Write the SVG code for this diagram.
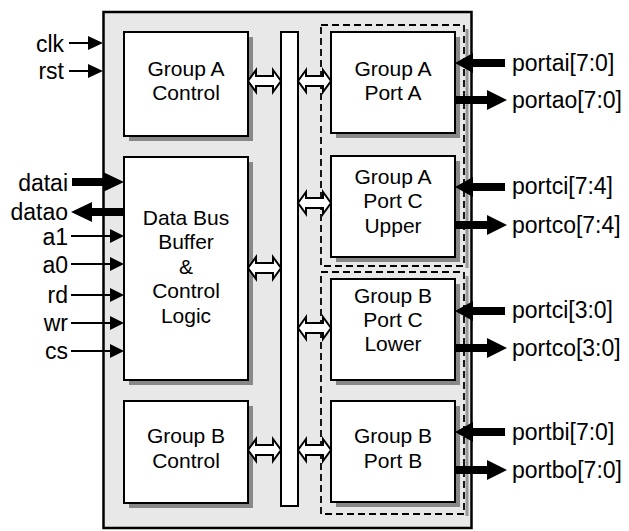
<svg xmlns="http://www.w3.org/2000/svg" width="629" height="531" viewBox="0 0 629 531">
<defs>
<style>
.sh{fill:#888888;}
.box{fill:#ffffff;stroke:#000000;stroke-width:2;}
.dash{fill:none;stroke:#000000;stroke-width:1.8;stroke-dasharray:7,4;}
.dsh{fill:none;stroke:#999999;stroke-width:3;}
.nt{font-family:"Liberation Sans",Arial,sans-serif;font-size:21px;fill:#000;text-anchor:middle;}
.lt{font-family:"Liberation Sans",Arial,sans-serif;font-size:23px;fill:#000;text-anchor:end;}
.rt{font-family:"Liberation Sans",Arial,sans-serif;font-size:23px;fill:#000;text-anchor:start;}
.thin{stroke:#000;stroke-width:2;fill:none;}
.thick{stroke:#000;stroke-width:8;fill:none;}
.hd{fill:#000;}
.dbl{fill:#ffffff;stroke:#000;stroke-width:2;stroke-linejoin:miter;}
</style>
<path id="da" class="dbl" d="M0,0 L8,-11 L8,-5 L25,-5 L25,-11 L33,0 L25,11 L25,5 L8,5 L8,11 Z"/>
</defs>

<g id="chip">
<rect x="103.5" y="12" width="368" height="516" fill="#e8e8e8" stroke="#000" stroke-width="2.5"/>
</g>

<g id="groupA-region">
<line class="dsh" x1="467" y1="29" x2="467" y2="268"/>
<rect class="dash" x="321" y="25" width="143" height="241"/>
</g>
<g id="groupB-region">
<line class="dsh" x1="467" y1="276" x2="467" y2="516"/>
<rect class="dash" x="321" y="272" width="143" height="242"/>
</g>

<g id="groupA-control">
<rect class="sh" x="129" y="37" width="124" height="104"/>
<rect class="box" x="124" y="32" width="124" height="104"/>
<text class="nt" x="186" y="76">Group A</text>
<text class="nt" x="186" y="100">Control</text>
</g>

<g id="databus">
<rect class="sh" x="129" y="162" width="124" height="223"/>
<rect class="box" x="124" y="157" width="124" height="223"/>
<text class="nt" x="186" y="225">Data Bus</text>
<text class="nt" x="186" y="249">Buffer</text>
<text class="nt" x="186" y="274">&amp;</text>
<text class="nt" x="186" y="298">Control</text>
<text class="nt" x="186" y="323">Logic</text>
</g>

<g id="groupB-control">
<rect class="sh" x="129" y="406" width="124" height="102"/>
<rect class="box" x="124" y="401" width="124" height="102"/>
<text class="nt" x="186" y="443">Group B</text>
<text class="nt" x="186" y="468">Control</text>
</g>

<g id="bus">
<rect class="box" x="281" y="32" width="17" height="474"/>
</g>

<g id="groupA-portA">
<rect class="sh" x="336" y="37" width="124" height="101"/>
<rect class="box" x="331" y="32" width="124" height="101"/>
<text class="nt" x="393" y="76">Group A</text>
<text class="nt" x="393" y="100">Port A</text>
</g>

<g id="groupA-portC">
<rect class="sh" x="336" y="161" width="124" height="101"/>
<rect class="box" x="331" y="156" width="124" height="101"/>
<text class="nt" x="393" y="184">Group A</text>
<text class="nt" x="393" y="208">Port C</text>
<text class="nt" x="393" y="233">Upper</text>
</g>

<g id="groupB-portC">
<rect class="sh" x="336" y="284" width="124" height="101"/>
<rect class="box" x="331" y="279" width="124" height="101"/>
<text class="nt" x="393" y="303">Group B</text>
<text class="nt" x="393" y="327">Port C</text>
<text class="nt" x="393" y="351">Lower</text>
</g>

<g id="groupB-portB">
<rect class="sh" x="336" y="406" width="124" height="101"/>
<rect class="box" x="331" y="401" width="124" height="101"/>
<text class="nt" x="393" y="443">Group B</text>
<text class="nt" x="393" y="468">Port B</text>
</g>

<g id="connectors">
<use href="#da" x="248" y="81"/>
<use href="#da" x="248" y="268"/>
<use href="#da" x="248" y="450"/>
<use href="#da" x="298" y="81"/>
<use href="#da" x="298" y="203"/>
<use href="#da" x="298" y="328"/>
<use href="#da" x="298" y="450"/>

<line class="thin" x1="69" y1="43" x2="90" y2="43"/>
<polygon class="hd" points="88,36 103,43 88,50"/>
<line class="thin" x1="69" y1="71" x2="90" y2="71"/>
<polygon class="hd" points="88,64 103,71 88,78"/>

<line class="thick" x1="72" y1="182" x2="104" y2="182"/>
<polygon class="hd" points="103,172 124,182 103,192"/>
<line class="thick" x1="91" y1="212" x2="124" y2="212"/>
<polygon class="hd" points="92,202 71,212 92,222"/>

<line class="thin" x1="71" y1="236" x2="111" y2="236"/>
<polygon class="hd" points="110,229 124,236 110,243"/>
<line class="thin" x1="71" y1="264" x2="111" y2="264"/>
<polygon class="hd" points="110,257 124,264 110,271"/>
<line class="thin" x1="71" y1="295" x2="111" y2="295"/>
<polygon class="hd" points="110,288 124,295 110,302"/>
<line class="thin" x1="71" y1="323" x2="111" y2="323"/>
<polygon class="hd" points="110,316 124,323 110,330"/>
<line class="thin" x1="71" y1="351" x2="111" y2="351"/>
<polygon class="hd" points="110,344 124,351 110,358"/>

<line class="thick" x1="472" y1="63" x2="505" y2="63"/>
<polygon class="hd" points="473,53 455,63 473,73"/>
<line class="thick" x1="455" y1="100" x2="488" y2="100"/>
<polygon class="hd" points="487,90 507,100 487,110"/>

<line class="thick" x1="472" y1="187" x2="505" y2="187"/>
<polygon class="hd" points="473,177 455,187 473,197"/>
<line class="thick" x1="455" y1="225" x2="488" y2="225"/>
<polygon class="hd" points="487,215 507,225 487,235"/>

<line class="thick" x1="472" y1="311" x2="505" y2="311"/>
<polygon class="hd" points="473,301 455,311 473,321"/>
<line class="thick" x1="455" y1="348" x2="488" y2="348"/>
<polygon class="hd" points="487,338 507,348 487,358"/>

<line class="thick" x1="472" y1="432" x2="505" y2="432"/>
<polygon class="hd" points="473,422 455,432 473,442"/>
<line class="thick" x1="455" y1="470" x2="488" y2="470"/>
<polygon class="hd" points="487,460 507,470 487,480"/>
</g>

<g id="labels">
<text class="lt" x="64" y="52">clk</text>
<text class="lt" x="64" y="79">rst</text>
<text class="lt" x="68" y="191">datai</text>
<text class="lt" x="68" y="220">datao</text>
<text class="lt" x="68" y="245">a1</text>
<text class="lt" x="68" y="273">a0</text>
<text class="lt" x="68" y="303">rd</text>
<text class="lt" x="68" y="331">wr</text>
<text class="lt" x="68" y="359">cs</text>
<text class="rt" x="512" y="71">portai[7:0]</text>
<text class="rt" x="512" y="108">portao[7:0]</text>
<text class="rt" x="512" y="194">portci[7:4]</text>
<text class="rt" x="512" y="233">portco[7:4]</text>
<text class="rt" x="512" y="318">portci[3:0]</text>
<text class="rt" x="512" y="356">portco[3:0]</text>
<text class="rt" x="512" y="440">portbi[7:0]</text>
<text class="rt" x="512" y="478">portbo[7:0]</text>
</g>
</svg>
